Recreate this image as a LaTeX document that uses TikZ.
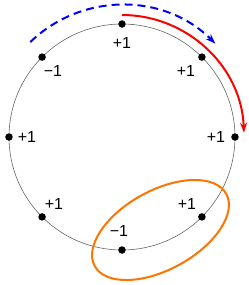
\documentclass[tikz,border=0pt]{standalone}
\usepackage{fontspec}
\setmainfont{Liberation Sans}
\usetikzlibrary{arrows.meta}
\begin{document}
\begin{tikzpicture}[x=1pt,y=1pt,
  dot/.style={circle,fill=black,inner sep=0pt,minimum size=7.5pt},
  lab/.style={inner sep=0pt,font=\fontsize{16}{18}\selectfont},
  arc/.style={line width=2pt,-{Stealth[length=10pt,width=7pt]}}]
\useasboundingbox (-122,-148) rectangle (127,137);
\draw[gray!80!black,line width=0.6pt] (0,0) circle (113);
\foreach \a/\n in {90/p0,45/p1,0/p2,-45/p3,-90/p4,-135/p5,180/p6,135/p7}
  \node[dot] (\n) at (\a:113) {};
\node[lab] (l0) at (0,94) {+1};
\node[lab] (l1) at (64,66) {+1};
\node[lab] (l2) at (94,0) {+1};
\node[lab] (l3) at (65,-67) {+1};
\node[lab] (l4) at (-3,-94) {−1};
\node[lab] (l5) at (-68,-67) {+1};
\node[lab] (l6) at (-95,0) {+1};
\node[lab] (l7) at (-69,66) {−1};
\draw[arc,blue,dash pattern=on 8pt off 5pt] (134:132) arc[start angle=134,end angle=45,radius=132];
\draw[arc,red] (90:122) arc[start angle=90,end angle=2,radius=122];
\draw[orange!90!red,line width=2pt,rotate around={28.8:(38.5,-93)}] (38.5,-93) ellipse[x radius=75,y radius=39.5];
\end{tikzpicture}
\end{document}
